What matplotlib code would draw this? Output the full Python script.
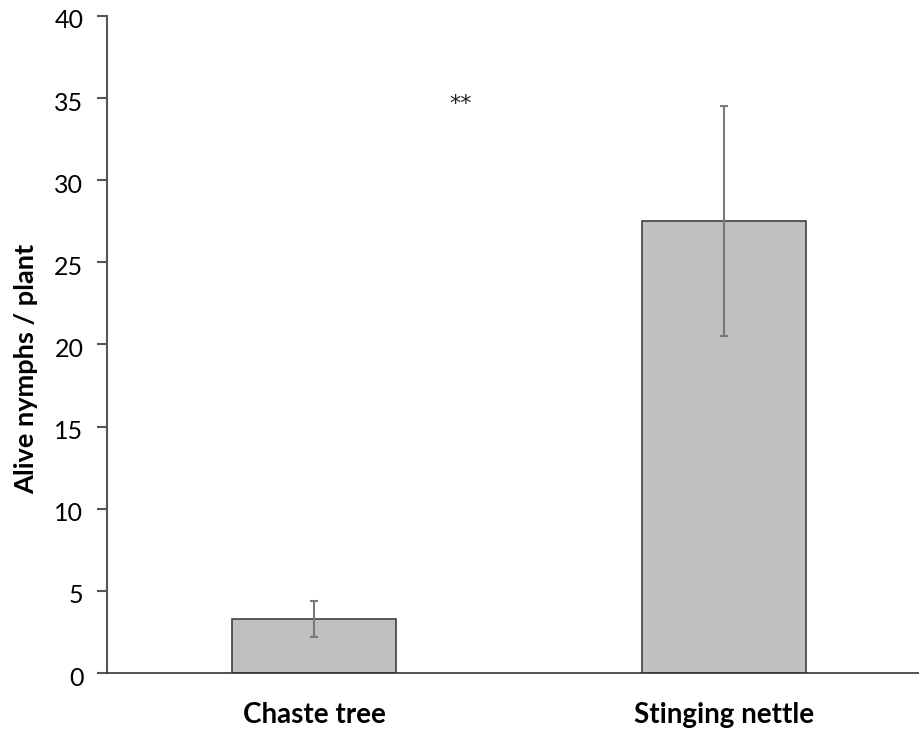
import matplotlib
matplotlib.use("Agg")
import matplotlib.pyplot as plt
import matplotlib.transforms as mtransforms
import numpy as np

categories = ["Chaste tree", "Stinging nettle"]
means = [3.3, 27.5]
errors = [1.1, 7.0]
yticks = [0, 5, 10, 15, 20, 25, 30, 35, 40]

plt.rcParams['font.family'] = ['Lato', 'DejaVu Sans']

fig = plt.figure(figsize=(9.2, 7.32), dpi=100)
ax = fig.add_axes([107 / 920, (732 - 673) / 732, 1 - 107 / 920, (673 - 16) / 732])

x = np.arange(len(categories))
ax.bar(x, means, width=0.40, color="#c0c0c0", edgecolor="#404040", linewidth=1.2, zorder=2)
ax.errorbar(x, means, yerr=errors, fmt='none', ecolor="#7a7a7a", elinewidth=1.5,
            capsize=3, capthick=1.5, zorder=3)

# significance mark
ax.text(0.357, 34.3, "**", ha='center', va='baseline', fontsize=16,
        family='DejaVu Sans', color="#222222")

ax.set_xlim(-0.506, 1.477)
ax.set_ylim(0, 40)
ax.set_yticks(yticks)
ax.set_xticks(x)
ax.set_xticklabels(categories, fontsize=20, fontweight='bold')
ax.tick_params(axis='x', length=0, pad=21)
ax.tick_params(axis='y', length=7, width=1.5, color="#555555", labelsize=18, pad=10)

# excel-style labels sit a little below their ticks
shift = mtransforms.ScaledTranslation(0, -3 / 100, fig.dpi_scale_trans)
for lab in ax.get_yticklabels():
    lab.set_transform(lab.get_transform() + shift)

ax.set_ylabel("Alive nymphs / plant", fontsize=19.5, fontweight='bold')
ax.yaxis.label.set_va('center')
ax.yaxis.set_label_coords(-0.0996, 0.463)

for s in ['top', 'right']:
    ax.spines[s].set_visible(False)
ax.spines['left'].set_color("#555555")
ax.spines['left'].set_linewidth(1.5)
ax.spines['bottom'].set_color("#333333")
ax.spines['bottom'].set_linewidth(1.2)

fig.savefig("out.png", dpi=100)
